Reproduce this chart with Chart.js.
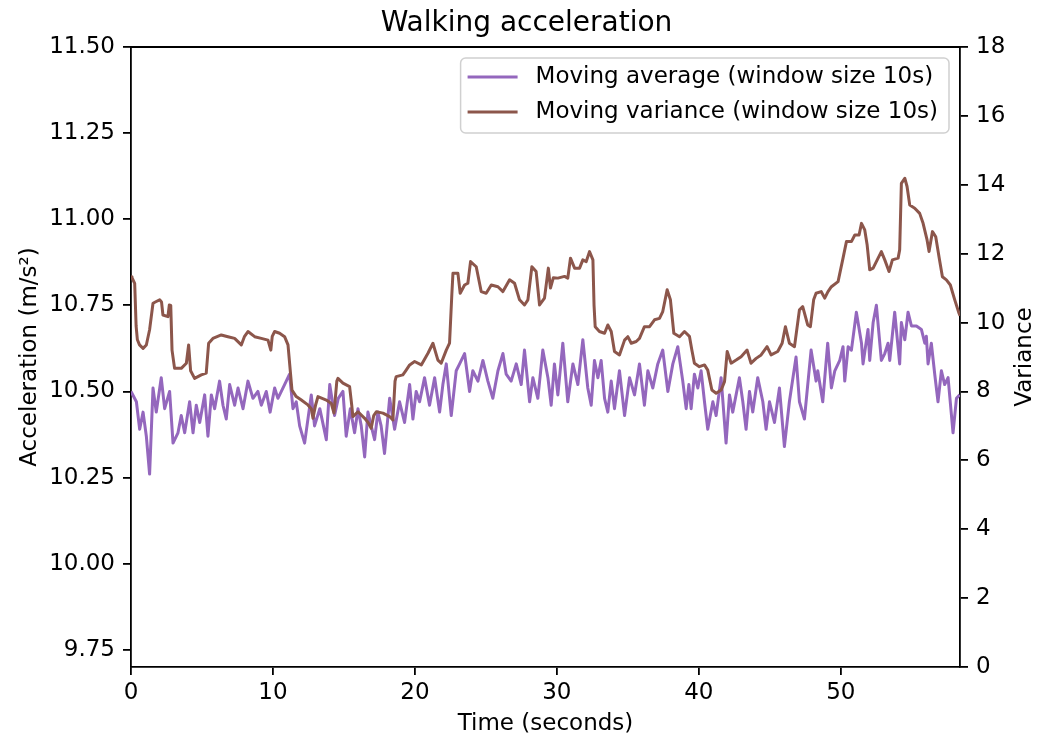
<!DOCTYPE html>
<html>
<head>
<meta charset="utf-8">
<script src="https://cdn.jsdelivr.net/npm/chart.js@4.4.0/dist/chart.umd.min.js"></script>
<style>
html,body{margin:0;padding:0;background:#fff;}
#wrap{width:1053px;height:738px;}
</style>
</head>
<body>
<div id="wrap"><canvas id="c" width="1053" height="738"></canvas></div>
<script>
const chartTitle = "Walking acceleration";
const seriesLabels = ["Moving average (window size 10s)", "Moving variance (window size 10s)"];
const xTitle = "Time (seconds)";
const yTitle = "Acceleration (m/s²)";
const y2Title = "Variance";

const timeTicks = [0, 10, 20, 30, 40, 50];
const accTicks = [9.75, 10.00, 10.25, 10.50, 10.75, 11.00, 11.25, 11.50];
const varTicks = [0, 2, 4, 6, 8, 10, 12, 14, 16, 18];

const avgTime = [0,0.07,0.38,0.61,0.85,1.08,1.31,1.55,1.78,2.13,2.37,2.72,2.96,3.31,3.54,3.78,4.13,4.37,4.60,4.84,5.19,5.42,5.66,5.89,6.24,6.48,6.71,6.95,7.30,7.54,7.89,8.24,8.59,8.94,9.18,9.53,9.80,10.12,10.35,10.59,10.82,11.17,11.41,11.64,11.88,12.23,12.70,12.93,13.30,13.76,14.00,14.34,14.60,14.93,15.16,15.45,15.75,15.99,16.22,16.46,16.69,16.92,17.16,17.39,17.62,17.86,18.22,18.57,18.92,19.27,19.63,19.86,20.09,20.33,20.68,21.03,21.39,21.74,21.97,22.21,22.56,22.91,23.15,23.50,23.85,24.08,24.44,24.79,25.14,25.49,25.85,26.20,26.43,26.78,27.14,27.49,27.72,28.08,28.31,28.66,29.01,29.37,29.60,29.83,30.07,30.42,30.77,31.13,31.48,31.83,32.18,32.42,32.65,32.89,33.12,33.36,33.59,33.83,34.06,34.41,34.77,35.12,35.47,35.82,36.17,36.41,36.76,37.11,37.46,37.82,38.17,38.52,38.87,39.11,39.30,39.46,39.69,39.93,40.16,40.40,40.63,40.99,41.22,41.57,41.92,42.16,42.39,42.86,43.10,43.33,43.57,43.80,44.15,44.51,44.74,44.98,45.33,45.68,46.03,46.38,46.85,47.09,47.44,47.91,48.26,48.38,48.73,49.08,49.34,49.58,49.93,50.16,50.28,50.52,50.75,51.10,51.46,51.57,51.92,52.04,52.28,52.51,52.75,52.86,53.10,53.33,53.45,53.80,54.15,54.27,54.51,54.74,54.98,55.33,55.68,55.92,56.03,56.15,56.38,56.62,56.85,57.09,57.32,57.56,57.91,58.15,58.38];
const avgValues = [10.50,10.50,10.47,10.39,10.44,10.37,10.26,10.51,10.44,10.54,10.45,10.50,10.35,10.38,10.43,10.38,10.47,10.38,10.46,10.41,10.49,10.37,10.49,10.45,10.53,10.46,10.42,10.52,10.46,10.51,10.45,10.53,10.48,10.50,10.46,10.50,10.44,10.51,10.48,10.50,10.52,10.55,10.45,10.47,10.40,10.35,10.49,10.40,10.45,10.36,10.52,10.43,10.48,10.50,10.37,10.45,10.38,10.45,10.40,10.31,10.44,10.40,10.36,10.44,10.40,10.32,10.48,10.39,10.47,10.41,10.52,10.42,10.50,10.47,10.54,10.46,10.54,10.44,10.52,10.58,10.43,10.56,10.58,10.61,10.50,10.56,10.53,10.59,10.53,10.48,10.56,10.61,10.55,10.53,10.58,10.52,10.62,10.47,10.54,10.48,10.62,10.54,10.46,10.58,10.49,10.64,10.47,10.58,10.52,10.65,10.51,10.46,10.59,10.54,10.59,10.48,10.44,10.53,10.45,10.56,10.43,10.54,10.49,10.58,10.46,10.56,10.51,10.58,10.62,10.50,10.58,10.63,10.53,10.45,10.52,10.45,10.55,10.51,10.56,10.47,10.39,10.47,10.43,10.54,10.35,10.49,10.44,10.54,10.47,10.39,10.50,10.44,10.54,10.47,10.39,10.47,10.41,10.51,10.34,10.47,10.60,10.47,10.42,10.62,10.53,10.56,10.47,10.64,10.51,10.56,10.59,10.63,10.53,10.63,10.62,10.73,10.64,10.58,10.68,10.59,10.70,10.75,10.64,10.59,10.61,10.64,10.59,10.73,10.58,10.70,10.65,10.73,10.69,10.69,10.68,10.64,10.66,10.58,10.64,10.55,10.47,10.56,10.52,10.54,10.38,10.48,10.49];

const varTime = [0,0.07,0.26,0.36,0.45,0.60,0.85,1.08,1.31,1.50,1.55,1.78,2.02,2.15,2.25,2.60,2.70,2.80,2.89,3.07,3.54,3.90,4.06,4.20,4.48,4.95,5.30,5.47,5.77,6.36,6.83,7.30,7.77,8.00,8.24,8.71,9.18,9.65,9.85,9.95,10.12,10.47,10.82,11.06,11.34,11.64,12.00,12.46,12.70,12.82,13.00,13.17,13.76,14.11,14.30,14.50,14.58,14.93,15.40,15.55,15.63,15.99,16.46,16.70,16.92,17.10,17.28,17.75,18.22,18.45,18.60,18.68,19.15,19.35,19.63,19.98,20.45,20.92,21.27,21.62,21.85,22.21,22.44,22.60,22.68,23.03,23.19,23.50,23.73,23.92,24.32,24.67,25.02,25.38,25.85,26.20,26.67,27.02,27.37,27.72,27.96,28.24,28.54,28.78,29.13,29.40,29.55,29.75,30.07,30.54,30.77,30.96,31.25,31.60,31.83,32.07,32.30,32.54,32.62,32.70,33.00,33.36,33.59,33.83,34.06,34.41,34.77,35.00,35.24,35.59,35.82,36.17,36.53,36.88,37.23,37.46,37.77,38.00,38.24,38.64,38.99,39.34,39.51,39.69,40.04,40.40,40.63,40.92,41.22,41.57,41.81,42.00,42.28,42.63,42.98,43.40,43.68,44.04,44.39,44.81,45.09,45.56,45.87,46.10,46.38,46.74,47.09,47.32,47.67,47.86,48.09,48.26,48.62,48.87,49.10,49.34,49.81,50.16,50.40,50.75,50.99,51.29,51.46,51.69,51.86,52.04,52.28,52.63,52.86,53.10,53.40,53.64,54.04,54.15,54.27,54.51,54.67,54.86,55.21,55.56,55.80,56.08,56.22,56.46,56.69,56.92,57.16,57.44,57.72,58.03,58.33,58.40];
const varValues = [11.33,11.30,11.14,9.90,9.50,9.35,9.25,9.35,9.79,10.40,10.56,10.61,10.66,10.60,10.22,10.17,10.51,10.50,9.20,8.67,8.67,8.82,9.35,8.60,8.38,8.48,8.53,9.40,9.54,9.64,9.59,9.54,9.35,9.60,9.74,9.59,9.54,9.49,9.20,9.60,9.74,9.69,9.59,9.35,8.04,7.85,7.75,7.61,7.50,7.22,7.60,7.85,7.75,7.65,7.37,8.30,8.38,8.24,8.14,7.60,7.27,7.41,7.22,7.10,6.93,7.30,7.41,7.37,7.27,7.17,8.30,8.43,8.48,8.60,8.77,8.87,8.77,9.11,9.40,8.91,8.82,9.20,9.40,10.80,11.43,11.43,10.85,11.09,11.14,11.77,11.62,10.90,10.85,11.09,11.04,10.90,11.24,11.14,10.66,10.51,10.66,11.62,11.48,10.51,10.71,11.58,11.00,11.30,11.29,11.34,11.29,11.87,11.58,11.58,11.82,11.77,12.06,11.82,10.50,9.88,9.74,9.69,9.93,9.74,9.16,9.06,9.49,9.59,9.40,9.45,9.54,9.88,9.88,10.08,10.12,10.32,10.95,10.66,9.69,9.59,9.74,9.60,9.20,8.82,8.72,8.77,8.62,8.04,7.95,8.04,8.28,9.16,8.82,8.91,9.01,9.20,8.82,8.96,9.06,9.30,9.06,9.16,9.40,9.88,9.40,9.30,10.37,10.46,9.93,9.88,10.66,10.85,10.90,10.71,10.90,11.04,11.19,11.87,12.35,12.35,12.54,12.54,12.88,12.69,12.25,11.53,11.58,11.87,12.06,11.82,11.48,11.82,11.87,12.11,14.04,14.19,13.95,13.41,13.32,13.17,12.88,12.40,12.06,12.64,12.49,11.91,11.33,11.24,11.09,10.66,10.27,10.20];

const purple = '#9467bd';
const brown = '#8c564b';
const FONT = "'DejaVu Sans', sans-serif";

const toPoints = (xs, ys) => xs.map((x, i) => ({x: x, y: ys[i]}));

const frameAndLegend = {
  id: 'frameAndLegend',
  afterDraw(chart) {
    const ctx = chart.ctx;
    const a = chart.chartArea;
    ctx.save();
    // top spine
    ctx.strokeStyle = '#000';
    ctx.lineWidth = 1.8;
    ctx.beginPath();
    ctx.moveTo(a.left - 0.9, a.top);
    ctx.lineTo(a.right + 0.9, a.top);
    ctx.stroke();
    // right axis title, rotated like matplotlib's ylabel (reads bottom to top)
    ctx.font = "23px " + FONT;
    ctx.fillStyle = '#000';
    ctx.translate(1025, (a.top + a.bottom) / 2);
    ctx.rotate(-Math.PI / 2);
    ctx.textAlign = 'center';
    ctx.textBaseline = 'middle';
    ctx.fillText(y2Title, 0, 0);
    ctx.setTransform(1, 0, 0, 1, 0, 0);
    // legend
    const labels = chart.data.datasets.map(d => d.label);
    const colors = chart.data.datasets.map(d => d.borderColor);
    const tw = Math.max(...labels.map(l => ctx.measureText(l).width));
    const right = a.right - 11;
    const left = right - (7 + 50 + 18 + tw + 11);
    const top = a.top + 11;
    const bottom = top + 75;
    const r = 5;
    ctx.beginPath();
    ctx.moveTo(left + r, top);
    ctx.lineTo(right - r, top);
    ctx.arcTo(right, top, right, top + r, r);
    ctx.lineTo(right, bottom - r);
    ctx.arcTo(right, bottom, right - r, bottom, r);
    ctx.lineTo(left + r, bottom);
    ctx.arcTo(left, bottom, left, bottom - r, r);
    ctx.lineTo(left, top + r);
    ctx.arcTo(left, top, left + r, top, r);
    ctx.closePath();
    ctx.fillStyle = 'rgba(255,255,255,0.8)';
    ctx.fill();
    ctx.strokeStyle = '#d0d0d0';
    ctx.lineWidth = 1.5;
    ctx.stroke();
    labels.forEach((l, i) => {
      const yy = top + 19 + i * 35;
      ctx.strokeStyle = colors[i];
      ctx.lineWidth = 3;
      ctx.beginPath();
      ctx.moveTo(left + 7, yy);
      ctx.lineTo(left + 57, yy);
      ctx.stroke();
      ctx.fillStyle = '#000';
      ctx.textAlign = 'left';
      ctx.textBaseline = 'middle';
      ctx.fillText(l, left + 75, yy);
    });
    ctx.restore();
  }
};

const tickFont = {family: FONT, size: 23};
const gridOpts = {drawOnChartArea: false, drawTicks: true, tickLength: 8, color: '#000', lineWidth: 1.8};
const borderOpts = {display: true, color: '#000', width: 1.8};

new Chart(document.getElementById('c'), {
  type: 'line',
  data: {
    datasets: [
      {label: seriesLabels[0], data: toPoints(avgTime, avgValues), borderColor: purple, backgroundColor: purple,
       borderWidth: 3, borderJoinStyle: 'round', pointRadius: 0, tension: 0, yAxisID: 'y', order: 1},
      {label: seriesLabels[1], data: toPoints(varTime, varValues), borderColor: brown, backgroundColor: brown,
       borderWidth: 3, borderJoinStyle: 'round', pointRadius: 0, tension: 0, yAxisID: 'y1', order: 0}
    ]
  },
  options: {
    responsive: false,
    devicePixelRatio: 1,
    animation: false,
    layout: {padding: 0},
    plugins: {
      legend: {display: false},
      tooltip: {enabled: false},
      title: {display: true, text: chartTitle, color: '#000',
              font: {family: FONT, size: 28, weight: 'normal', lineHeight: 1.2},
              padding: {top: 7, bottom: 6.4}}
    },
    scales: {
      x: {
        type: 'linear', min: 0, max: 58.4,
        afterBuildTicks: s => { s.ticks = timeTicks.map(v => ({value: v})); },
        afterFit: s => { s.height = 71; },
        ticks: {color: '#000', font: tickFont, padding: 4, maxRotation: 0, callback: v => String(v)},
        grid: gridOpts, border: borderOpts,
        title: {display: true, text: xTitle, color: '#000', font: {family: FONT, size: 23, lineHeight: 1.2}, padding: {top: 0, bottom: 0}}
      },
      y: {
        type: 'linear', position: 'left', min: 9.70, max: 11.50,
        afterBuildTicks: s => { s.ticks = accTicks.map(v => ({value: v})); },
        afterFit: s => { s.width = 131; },
        ticks: {color: '#000', font: tickFont, padding: 8, callback: v => Number(v).toFixed(2)},
        grid: gridOpts, border: borderOpts,
        title: {display: true, text: yTitle, color: '#000', font: {family: FONT, size: 23, lineHeight: 1.2}, padding: {top: 16, bottom: 0}}
      },
      y1: {
        type: 'linear', position: 'right', min: 0, max: 18,
        afterBuildTicks: s => { s.ticks = varTicks.map(v => ({value: v})); },
        afterFit: s => { s.width = 93; },
        ticks: {color: '#000', font: tickFont, padding: 8, callback: v => String(v)},
        grid: gridOpts, border: borderOpts,
        title: {display: false, text: y2Title}
      }
    }
  },
  plugins: [frameAndLegend]
});
</script>
</body>
</html>
